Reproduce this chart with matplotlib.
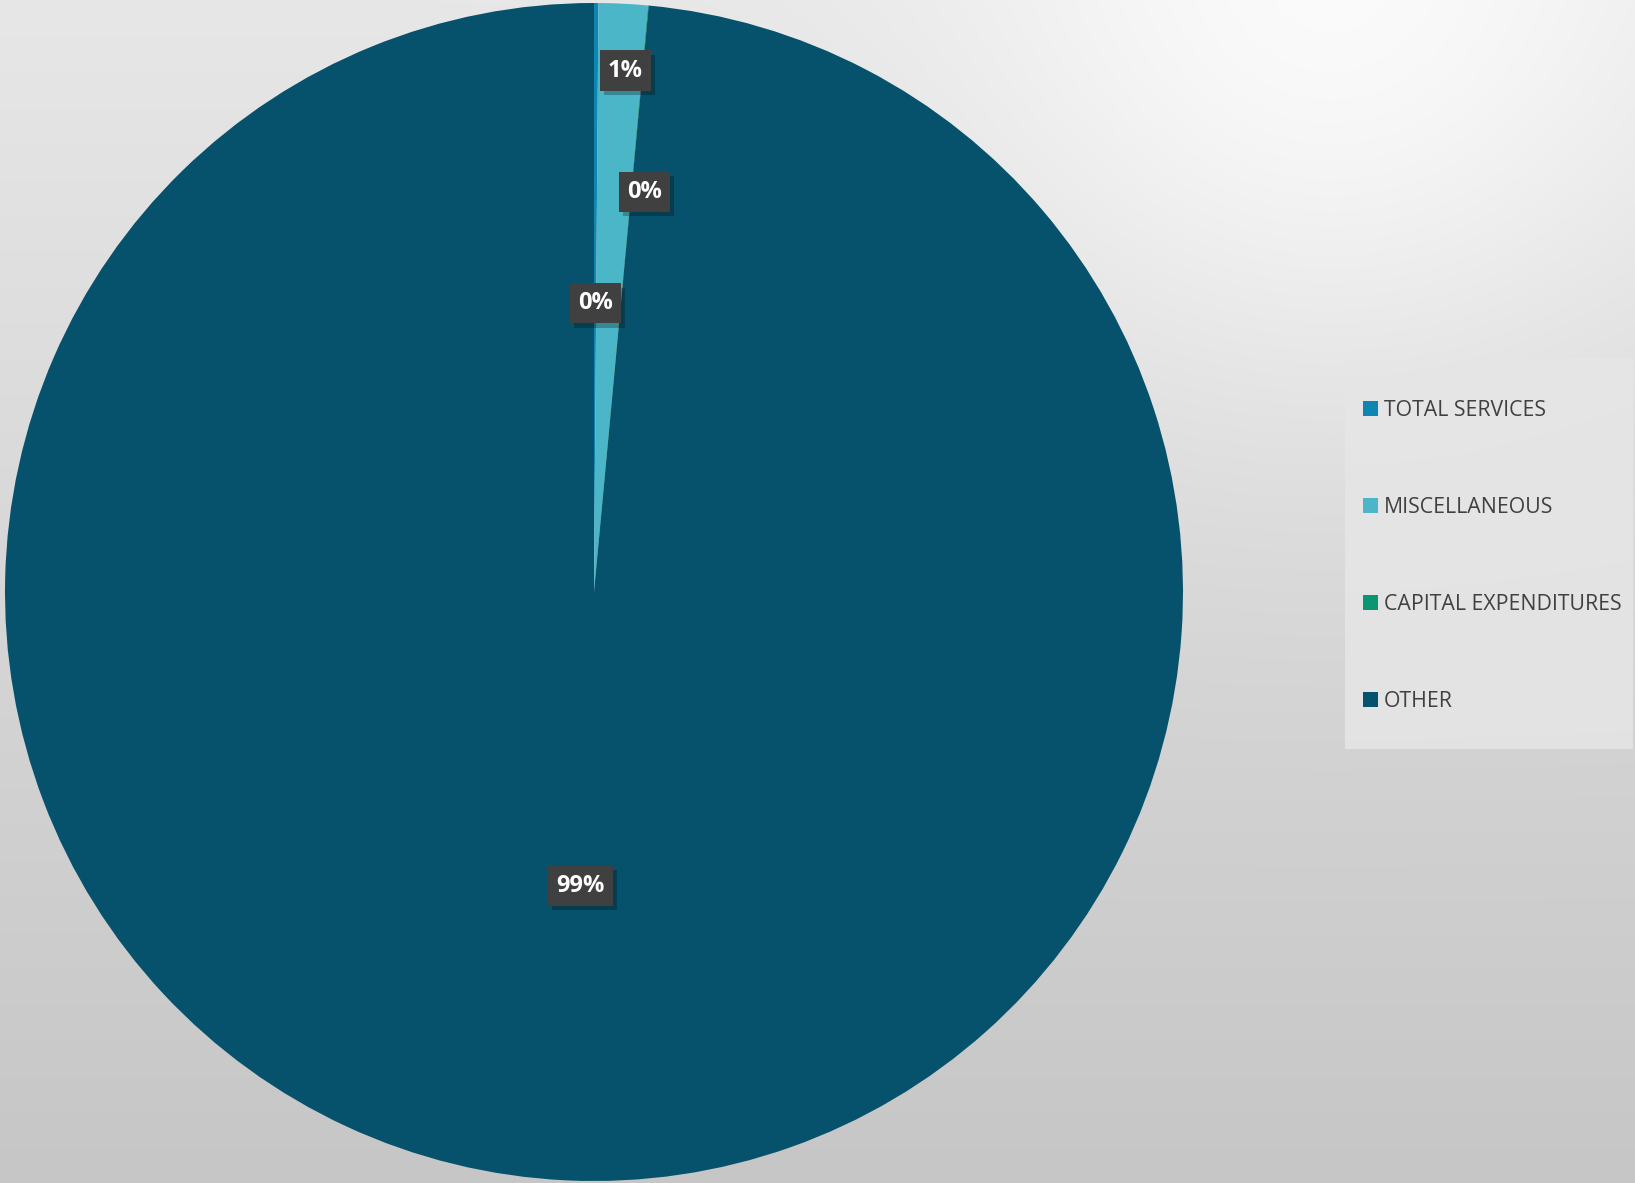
import numpy as np
import matplotlib
matplotlib.use('Agg')
import matplotlib.pyplot as plt
import matplotlib.patheffects as pe

plt.rcParams['font.family'] = ['Open Sans', 'DejaVu Sans']

categories = ['TOTAL SERVICES', 'MISCELLANEOUS', 'CAPITAL EXPENDITURES', 'OTHER']
values = [0.12, 1.34, 0.02, 98.52]
colors = ['#0F86B1', '#4AB6C7', '#0A9672', '#06526C']

# label placement (fraction of radius, extra clockwise degrees)
label_r = [0.49, 0.887, 0.685, 0.50]
label_shift = [0.0, 0.6, 1.9, 0.0]

W, H = 1635, 1183
fig = plt.figure(figsize=(W / 100, H / 100), dpi=100)

# background gradient
bg = fig.add_axes([0, 0, 1, 1])
yy, xx = np.mgrid[0:H, 0:W]
shade = 231 - 33 * (yy / H)
shade = shade + 20 * np.exp(-((xx - 1330) ** 2 + (yy - 60) ** 2) / (2 * 260.0 ** 2))
shade = np.clip(shade, 0, 255) / 255.0
bg.imshow(np.dstack([shade, shade, shade]), aspect='auto', extent=[0, 1, 0, 1])
bg.set_xlim(0, 1)
bg.set_ylim(0, 1)
bg.axis('off')

# pie
cx, cy, R = 594, 592, 589
ax = fig.add_axes([(cx - R) / W, (H - cy - R) / H, 2 * R / W, 2 * R / H])
wedges, _ = ax.pie(values, colors=colors, startangle=90, counterclock=False,
                   radius=1, wedgeprops=dict(linewidth=0))
ax.set_xlim(-1, 1)
ax.set_ylim(-1, 1)
ax.set_aspect('equal')
ax.axis('off')

total = sum(values)
for w, v, r, s in zip(wedges, values, label_r, label_shift):
    mid = np.deg2rad((w.theta1 + w.theta2) / 2 - s)
    t = ax.text(r * np.cos(mid), r * np.sin(mid), '%.0f%%' % (100 * v / total),
                ha='center', va='center', color='white', fontsize=17, fontweight='bold',
                bbox=dict(boxstyle='square,pad=0.34', facecolor='#404040', linewidth=0))
    t.get_bbox_patch().set_path_effects([
        pe.SimplePatchShadow(offset=(3, -3), shadow_rgbFace='black', alpha=0.25), pe.Normal()])

# legend box
bg.add_patch(plt.Rectangle((1345 / W, 1 - 749 / H), 288 / W, 391 / H,
                           facecolor='#e6e6e6', edgecolor='none', alpha=0.85))
handles = [plt.Rectangle((0, 0), 1, 1, facecolor=c) for c in colors]
leg = fig.legend(handles, categories, loc='center left',
                 bbox_to_anchor=(1363 / W, 1 - 556 / H), bbox_transform=fig.transFigure,
                 frameon=False, fontsize=15.3, labelcolor='#404040',
                 handlelength=0.7, handleheight=0.7, handletextpad=0.28,
                 labelspacing=3.58, borderpad=0, borderaxespad=0)

fig.savefig('out.png', dpi=100)
